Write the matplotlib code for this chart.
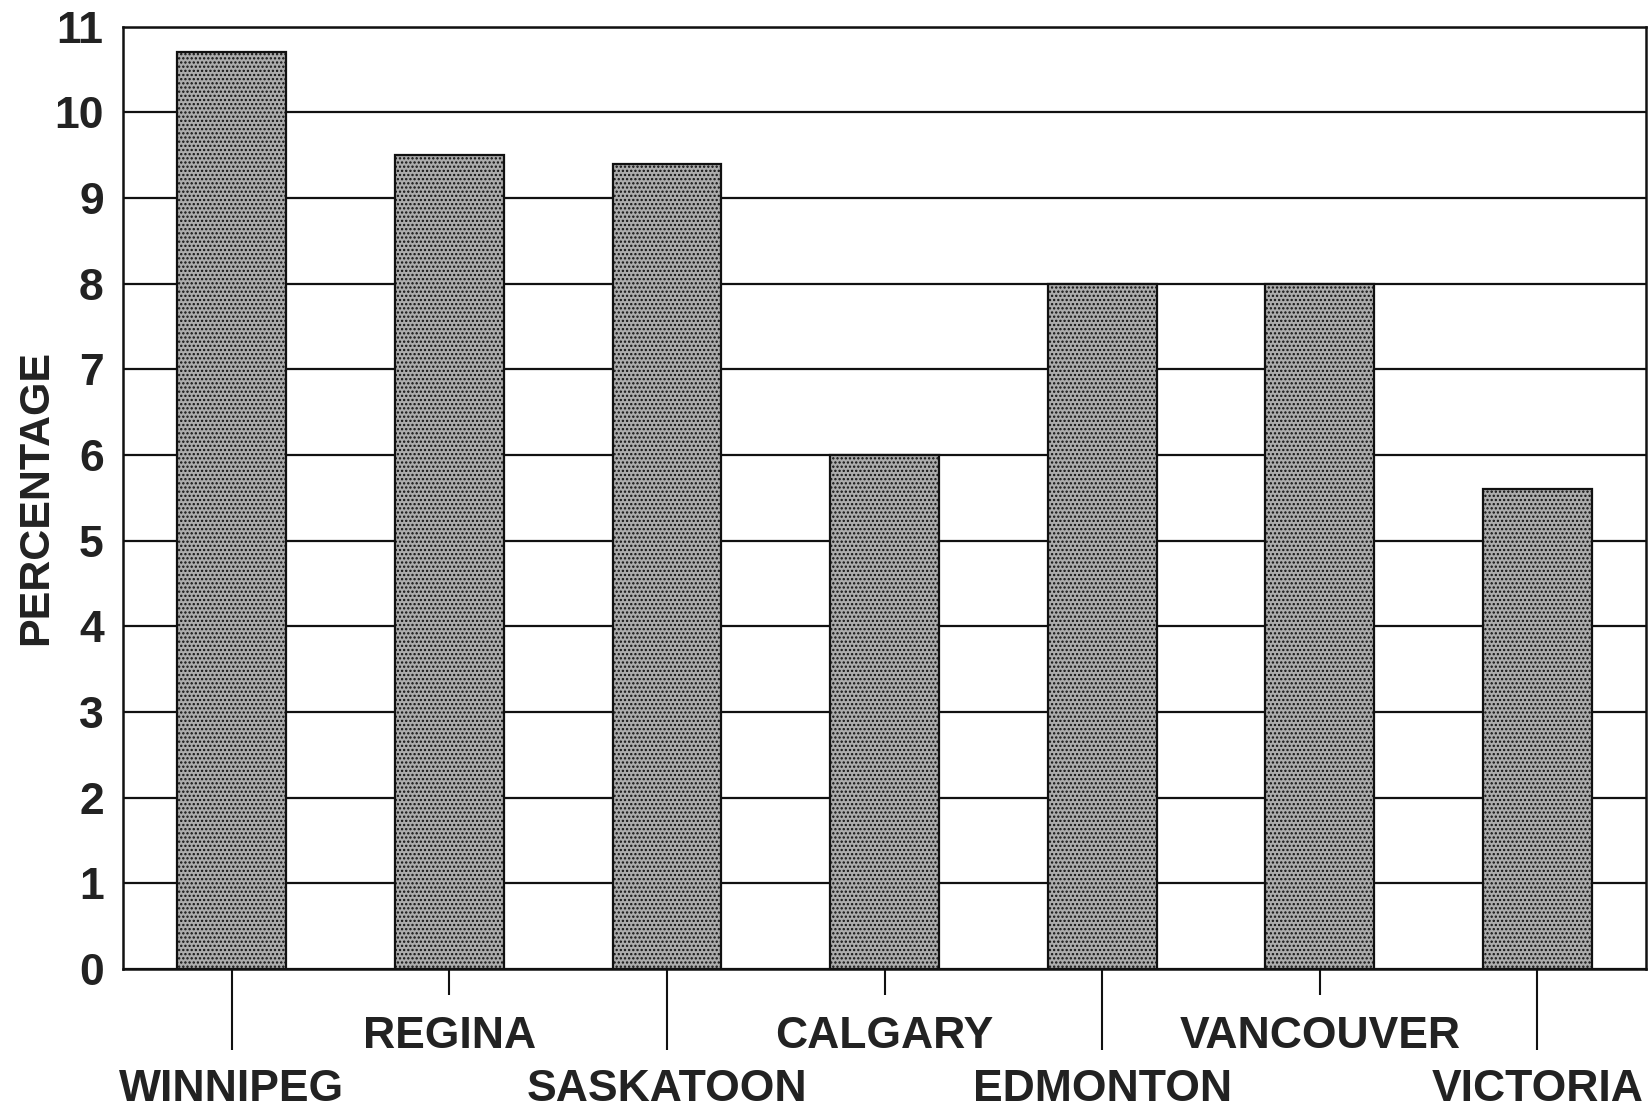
import matplotlib.pyplot as plt
from matplotlib.ticker import FixedLocator, FixedFormatter

# city names and percentages
cities = ['WINNIPEG', 'REGINA', 'SASKATOON', 'CALGARY', 'EDMONTON', 'VANCOUVER', 'VICTORIA']
percent = [10.7, 9.5, 9.4, 6.0, 8.0, 8.0, 5.6]
yticks = list(range(0, 12))

plt.rcParams['font.family'] = ['Liberation Sans', 'DejaVu Sans']
plt.rcParams['font.weight'] = 'bold'
plt.rcParams['hatch.linewidth'] = 1.1

fig = plt.figure(figsize=(16.52, 11.10), dpi=100)
ax = fig.add_axes([0.0745, 0.127, 0.922, 0.849])

x = list(range(len(cities)))
ax.bar(x, percent, width=0.5, color='#acacac', edgecolor='#111111',
       linewidth=1.6, hatch='....', zorder=3)

ax.set_xlim(-0.5, len(cities) - 0.5)
ax.set_ylim(0, 11)
ax.set_yticks(yticks)
ax.yaxis.grid(True, color='#111111', linewidth=1.6, zorder=0)
ax.tick_params(axis='y', length=0, pad=14, labelsize=32, colors='#222222')

# staggered city labels: long ticks for the lower row, short for the upper
low = x[0::2]
high = x[1::2]
ax.xaxis.set_major_locator(FixedLocator(low))
ax.xaxis.set_major_formatter(FixedFormatter([cities[i] for i in low]))
ax.xaxis.set_minor_locator(FixedLocator(high))
ax.xaxis.set_minor_formatter(FixedFormatter([cities[i] for i in high]))
ax.tick_params(axis='x', which='major', length=58, width=1.5, pad=14,
               labelsize=32, color='#111111', labelcolor='#222222')
ax.tick_params(axis='x', which='minor', length=19, width=1.5, pad=15,
               labelsize=32, color='#111111', labelcolor='#222222')

for s in ax.spines.values():
    s.set_linewidth(1.8)
    s.set_color('#111111')

ax.set_ylabel('PERCENTAGE', fontsize=31, fontweight='bold', color='#222222')
ax.yaxis.set_label_coords(-0.044, 0.5)

fig.savefig('out.png', dpi=100)
